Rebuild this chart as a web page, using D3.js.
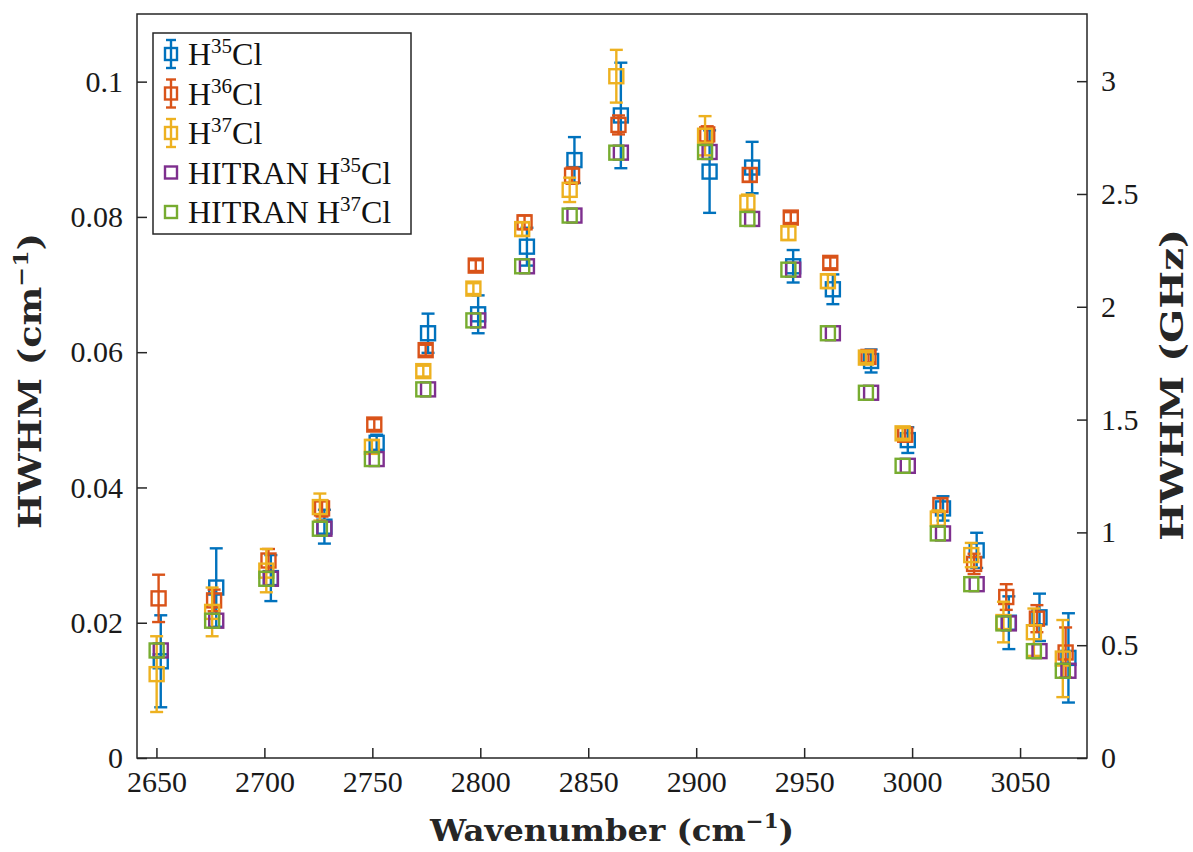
<!DOCTYPE html>
<html>
<head>
<meta charset="utf-8">
<script src="https://cdn.jsdelivr.net/npm/d3@7"></script>
<style>
  html, body { margin: 0; padding: 0; background: #fff; }
  svg { display: block; }
</style>
</head>
<body>
<svg id="chart" width="1193" height="852"></svg>
<script>
// Line order: P(10) ... P(1), R(0) ... R(10)
const nu35 = [2652.0, 2677.7, 2703.0, 2727.8, 2752.0, 2775.8, 2799.0, 2821.6, 2843.6, 2865.1,
              2906.2, 2925.9, 2944.9, 2963.3, 2981.0, 2998.0, 3014.3, 3029.9, 3044.8, 3059.0, 3072.4];
const nu36 = [2651.0, 2676.7, 2701.9, 2726.7, 2750.9, 2774.7, 2797.9, 2820.5, 2842.5, 2864.0,
              2905.1, 2924.8, 2943.8, 2962.1, 2979.8, 2996.8, 3013.1, 3028.7, 3043.6, 3057.8, 3071.1];
const nu37 = [2650.1, 2675.8, 2700.9, 2725.7, 2749.8, 2773.6, 2796.8, 2819.4, 2841.4, 2863.0,
              2904.1, 2923.7, 2942.7, 2961.0, 2978.6, 2995.6, 3011.9, 3027.4, 3042.3, 3056.4, 3069.8];

const h35 = [0.0143, 0.0252, 0.0266, 0.0342, 0.0466, 0.0628, 0.0656, 0.0756, 0.0884, 0.0950,
             0.0867, 0.0873, 0.0727, 0.0693, 0.0587, 0.0470, 0.0369, 0.0307, 0.0200, 0.0208, 0.0148];
const err35 = [0.0068, 0.0058, 0.0034, 0.0025, 0.0012, 0.0029, 0.0028, 0.0028, 0.0034, 0.0078,
               0.0061, 0.0038, 0.0024, 0.0022, 0.0017, 0.0019, 0.0018, 0.0026, 0.0039, 0.0035, 0.0066];

const h36 = [0.0236, 0.0233, 0.0292, 0.0369, 0.0493, 0.0603, 0.0728, 0.0792, 0.0861, 0.0936,
             0.0922, 0.0862, 0.0799, 0.0732, 0.0593, 0.0478, 0.0374, 0.0287, 0.0238, 0.0206, 0.0156];
const err36 = [0.0035, 0.0016, 0.0017, 0.0012, 0.0008, 0.0008, 0.0008, 0.0010, 0.0012, 0.0014,
               0.0012, 0.0010, 0.0008, 0.0008, 0.0008, 0.0010, 0.0010, 0.0015, 0.0019, 0.0020, 0.0037];

const h37 = [0.0124, 0.0216, 0.0277, 0.0371, 0.0460, 0.0572, 0.0694, 0.0782, 0.0840, 0.1008,
             0.0920, 0.0821, 0.0776, 0.0705, 0.0592, 0.0480, 0.0354, 0.0300, 0.0201, 0.0186, 0.0147];
const err37 = [0.0056, 0.0036, 0.0032, 0.0020, 0.0010, 0.0008, 0.0008, 0.0010, 0.0018, 0.0039,
               0.0029, 0.0012, 0.0010, 0.0010, 0.0008, 0.0008, 0.0012, 0.0018, 0.0030, 0.0035, 0.0057];

const hitran35 = [0.0159, 0.0203, 0.0265, 0.0339, 0.0442, 0.0545, 0.0647, 0.0727, 0.0802, 0.0895,
                  0.0896, 0.0797, 0.0722, 0.0628, 0.0540, 0.0432, 0.0332, 0.0257, 0.0199, 0.0158, 0.0129];
const hitran37 = [0.0159, 0.0203, 0.0265, 0.0339, 0.0442, 0.0545, 0.0647, 0.0727, 0.0802, 0.0895,
                  0.0896, 0.0797, 0.0722, 0.0628, 0.0540, 0.0432, 0.0332, 0.0257, 0.0199, 0.0158, 0.0129];

const xTicks = [2650, 2700, 2750, 2800, 2850, 2900, 2950, 3000, 3050];
const yTicks = [0, 0.02, 0.04, 0.06, 0.08, 0.1];
const yTicksGHz = [0, 0.5, 1, 1.5, 2, 2.5, 3];
const xDomain = [2641, 3081];
const yDomain = [0, 0.11];
const cm2GHz = 29.9792458;

const colors = ["#0072BD", "#D95319", "#EDB120", "#7E2F8E", "#77AC30"];

const series = [
  {sup: "35", prefix: "", x: nu35, y: h35, e: err35, color: colors[0]},
  {sup: "36", prefix: "", x: nu36, y: h36, e: err36, color: colors[1]},
  {sup: "37", prefix: "", x: nu37, y: h37, e: err37, color: colors[2]},
  {sup: "35", prefix: "HITRAN ", x: nu35, y: hitran35, e: null, color: colors[3]},
  {sup: "37", prefix: "HITRAN ", x: nu37, y: hitran37, e: null, color: colors[4]}
];

const L = 137, R = 1087, T = 14, B = 758;
const svg = d3.select("#chart");
svg.append("rect").attr("width", 1193).attr("height", 852).attr("fill", "#fff");

const x = d3.scaleLinear().domain(xDomain).range([L, R]);
const y = d3.scaleLinear().domain(yDomain).range([B, T]);
const y2 = d3.scaleLinear().domain([yDomain[0] * cm2GHz, yDomain[1] * cm2GHz]).range([B, T]);

const axisColor = "#262626";
const tickFont = "'Liberation Serif', 'Times New Roman', serif";
const labelFont = "'DejaVu Serif', serif";
const tickSize = 30;

// axes
const gx = svg.append("g").attr("transform", `translate(0,${B})`)
  .call(d3.axisBottom(x).tickValues(xTicks).tickSizeInner(-10).tickSizeOuter(0).tickPadding(13).tickFormat(d3.format("d")));
const gy = svg.append("g").attr("transform", `translate(${L},0)`)
  .call(d3.axisLeft(y).tickValues(yTicks).tickSizeInner(-10).tickSizeOuter(0).tickPadding(14)
        .tickFormat(d => d === 0 ? "0" : d3.format("")(+d.toFixed(2))));
const gy2 = svg.append("g").attr("transform", `translate(${R},0)`)
  .call(d3.axisRight(y2).tickValues(yTicksGHz).tickSizeInner(-10).tickSizeOuter(0).tickPadding(14)
        .tickFormat(d => d3.format("")(d)));

[gx, gy, gy2].forEach(g => {
  g.select(".domain").remove();
  g.selectAll(".tick line").attr("stroke", axisColor).attr("stroke-width", 1.5);
  g.selectAll(".tick text").attr("fill", "#1a1a1a").style("font-family", tickFont).style("font-size", tickSize + "px");
});

// box
svg.append("rect").attr("x", L).attr("y", T).attr("width", R - L).attr("height", B - T)
  .attr("fill", "none").attr("stroke", axisColor).attr("stroke-width", 1.5);

// data
const plot = svg.append("g");
const msz = 14, cap = 13, lw = 2.4;
series.forEach(s => {
  const g = plot.append("g");
  const idx = d3.range(s.x.length);
  if (s.e) {
    g.selectAll("line.bar").data(idx).join("line")
      .attr("x1", i => x(s.x[i])).attr("x2", i => x(s.x[i]))
      .attr("y1", i => y(s.y[i] - s.e[i])).attr("y2", i => y(s.y[i] + s.e[i]))
      .attr("stroke", s.color).attr("stroke-width", lw);
    [-1, 1].forEach(sg => {
      g.selectAll(null).data(idx).join("line")
        .attr("x1", i => x(s.x[i]) - cap / 2).attr("x2", i => x(s.x[i]) + cap / 2)
        .attr("y1", i => y(s.y[i] + sg * s.e[i])).attr("y2", i => y(s.y[i] + sg * s.e[i]))
        .attr("stroke", s.color).attr("stroke-width", lw);
    });
  }
  g.selectAll("rect").data(idx).join("rect")
    .attr("x", i => x(s.x[i]) - msz / 2).attr("y", i => y(s.y[i]) - msz / 2)
    .attr("width", msz).attr("height", msz)
    .attr("fill", "none").attr("stroke", s.color).attr("stroke-width", lw);
});

// legend
const lg = svg.append("g");
lg.append("rect").attr("x", 153).attr("y", 33).attr("width", 258).attr("height", 201)
  .attr("fill", "#fff").attr("stroke", axisColor).attr("stroke-width", 1.5);
series.forEach((s, k) => {
  const cy = 54 + k * 39.5, cx = 171;
  if (s.e) {
    lg.append("line").attr("x1", cx).attr("x2", cx).attr("y1", cy - 14).attr("y2", cy + 14)
      .attr("stroke", s.color).attr("stroke-width", lw);
    [-14, 14].forEach(d => lg.append("line").attr("x1", cx - 5).attr("x2", cx + 5)
      .attr("y1", cy + d).attr("y2", cy + d).attr("stroke", s.color).attr("stroke-width", lw));
  }
  lg.append("rect").attr("x", cx - 6).attr("y", cy - 6).attr("width", 12).attr("height", 12)
    .attr("fill", "none").attr("stroke", s.color).attr("stroke-width", lw);
  const t = lg.append("text").attr("x", 188).attr("y", cy + 11)
    .style("font-family", tickFont).style("font-size", "32px").attr("fill", "#111");
  t.append("tspan").text(s.prefix + "H");
  t.append("tspan").attr("dy", -12).style("font-size", "21px").text(s.sup);
  t.append("tspan").attr("dy", 12).text("Cl");
});

// axis labels
const xl = svg.append("text").attr("x", 612).attr("y", 841).attr("text-anchor", "middle")
  .attr("textLength", 364).attr("lengthAdjust", "spacingAndGlyphs")
  .style("font-family", labelFont).style("font-weight", "bold").style("font-size", "30px").attr("fill", "#262626");
xl.append("tspan").text("Wavenumber (cm");
xl.append("tspan").attr("dy", -13).style("font-size", "20px").text("−1");
xl.append("tspan").attr("dy", 13).text(")");

const yl = svg.append("text").attr("transform", "translate(41,381) rotate(-90)").attr("text-anchor", "middle")
  .attr("textLength", 296).attr("lengthAdjust", "spacingAndGlyphs")
  .style("font-family", labelFont).style("font-weight", "bold").style("font-size", "31px").attr("fill", "#262626");
yl.append("tspan").text("HWHM (cm");
yl.append("tspan").attr("dy", -13).style("font-size", "20px").text("−1");
yl.append("tspan").attr("dy", 13).text(")");

svg.append("text").attr("transform", "translate(1183,385) rotate(-90)").attr("text-anchor", "middle")
  .attr("textLength", 312).attr("lengthAdjust", "spacingAndGlyphs")
  .style("font-family", labelFont).style("font-weight", "bold").style("font-size", "31px").attr("fill", "#262626")
  .text("HWHM (GHz)");
</script>
</body>
</html>
